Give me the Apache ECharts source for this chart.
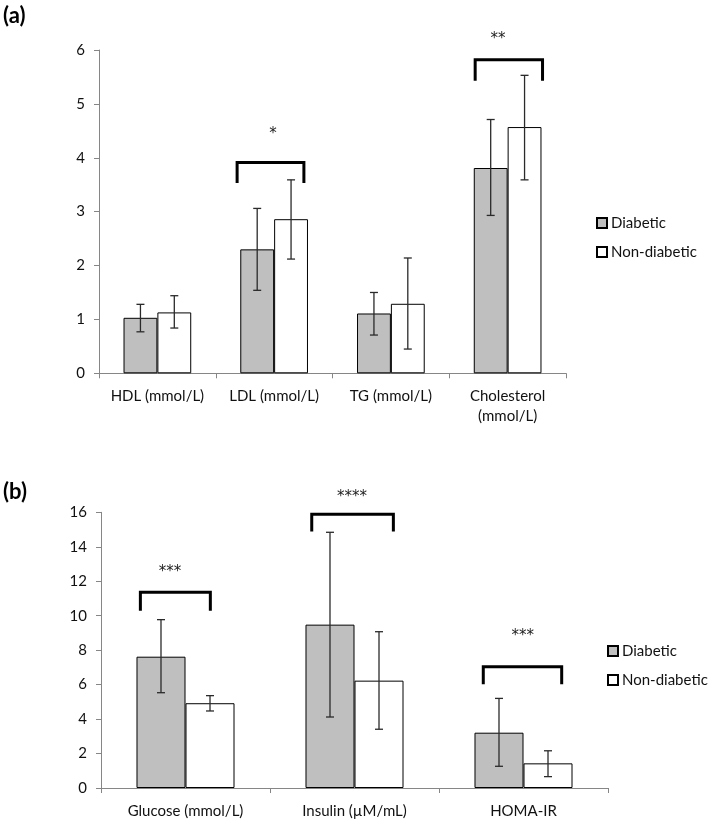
<!DOCTYPE html>
<html>
<head>
<meta charset="utf-8">
<script src="https://cdn.jsdelivr.net/npm/echarts@6/dist/echarts.min.js"></script>
<style>
html,body{margin:0;padding:0;background:#fff;}
#chart{width:708px;height:821px;}
</style>
</head>
<body>
<div id="chart"></div>
<script>
// ---------- Data ----------
var seriesNames = ['Diabetic', 'Non-diabetic'];

// Panel (a)
var categoriesA = ['HDL (mmol/L)', 'LDL (mmol/L)', 'TG (mmol/L)', 'Cholesterol\n(mmol/L)'];
var diabeticA = [1.03, 2.30, 1.11, 3.81];
var nonDiabeticA = [1.13, 2.86, 1.29, 4.57];
var diabeticErrLowA = [0.77, 1.54, 0.71, 2.93];
var diabeticErrHighA = [1.28, 3.06, 1.50, 4.71];
var nonDiabeticErrLowA = [0.84, 2.12, 0.45, 3.59];
var nonDiabeticErrHighA = [1.44, 3.59, 2.14, 5.53];
var yTicksA = [0, 1, 2, 3, 4, 5, 6];
// significance brackets: category, leg bottom, bracket top, star label, star height, left/right ends and star x (category units from centre)
var bracketCatA = [1, 3];
var bracketLegA = [3.53, 5.43];
var bracketTopA = [3.91, 5.82];
var bracketStarsA = ['*', '**'];
var bracketStarYA = [4.52, 6.27];
var bracketLeftA = [-0.317, -0.278];
var bracketRightA = [0.255, 0.299];
var bracketStarXA = [-0.01, -0.083];

// Panel (b)
var categoriesB = ['Glucose (mmol/L)', 'Insulin (\u00b5M/mL)', 'HOMA-IR'];
var diabeticB = [7.62, 9.48, 3.21];
var nonDiabeticB = [4.92, 6.23, 1.43];
var diabeticErrLowB = [5.53, 4.12, 1.26];
var diabeticErrHighB = [9.77, 14.84, 5.20];
var nonDiabeticErrLowB = [4.47, 3.41, 0.66];
var nonDiabeticErrHighB = [5.36, 9.07, 2.16];
var yTicksB = [0, 2, 4, 6, 8, 10, 12, 14, 16];
var bracketCatB = [0, 1, 2];
var bracketLegB = [10.29, 14.88, 6.02];
var bracketTopB = [11.36, 15.88, 7.04];
var bracketStarsB = ['***', '****', '***'];
var bracketStarYB = [12.75, 17.14, 9.05];
var bracketLeftB = [-0.267, -0.253, -0.238];
var bracketRightB = [0.147, 0.230, 0.226];
var bracketStarXB = [-0.092, -0.015, -0.005];

// ---------- Styling ----------
var FONT = 'Lato, "Open Sans", sans-serif';
var STAR_FONT = '"DejaVu Sans", sans-serif';
var GAP = 0.42; // barCategoryGap
var AXIS_COLOR = '#868686';
var TEXT_COLOR = '#111';
var ERR_COLOR = '#2a2a2a';
var GRAY = '#bfbfbf';

function errData(low, high, which) {
  return low.map(function (l, i) { return [i, which, l, high[i]]; });
}
function bracketData(cat, leg, top, stars, starY, left, right, starX) {
  return cat.map(function (c, i) { return [c, leg[i], top[i], starY[i], left[i], right[i], starX[i], stars[i]]; });
}

function renderErr(params, api) {
  var cat = api.value(0), which = api.value(1);
  var lo = api.coord([cat, api.value(2)]);
  var hi = api.coord([cat, api.value(3)]);
  var bw = api.size([1, 0])[0] * (1 - GAP) / 2;
  var x = lo[0] + (which === 0 ? -bw / 2 : bw / 2);
  var cap = 4;
  var st = { stroke: ERR_COLOR, lineWidth: 1.3 };
  return {
    type: 'group',
    children: [
      { type: 'line', shape: { x1: x, y1: lo[1], x2: x, y2: hi[1] }, style: st },
      { type: 'line', shape: { x1: x - cap, y1: lo[1], x2: x + cap, y2: lo[1] }, style: st },
      { type: 'line', shape: { x1: x - cap, y1: hi[1], x2: x + cap, y2: hi[1] }, style: st }
    ]
  };
}

function renderBracket(params, api) {
  var cat = api.value(0);
  var cw = api.size([1, 0])[0];
  var legP = api.coord([cat, api.value(1)]);
  var topP = api.coord([cat, api.value(2)]);
  var starP = api.coord([cat, api.value(3)]);
  var cx = legP[0];
  var xl = cx + api.value(4) * cw;
  var xr = cx + api.value(5) * cw;
  var sx = cx + api.value(6) * cw;
  var stars = api.value(7);
  return {
    type: 'group',
    children: [
      { type: 'polyline', shape: { points: [[xl, legP[1]], [xl, topP[1]], [xr, topP[1]], [xr, legP[1]]] },
        style: { stroke: '#000', lineWidth: 3, fill: null, lineJoin: 'miter' } },
      { type: 'text', style: { text: stars, x: sx, y: starP[1] + 4, align: 'center', verticalAlign: 'middle',
        fill: '#222', font: '15px ' + STAR_FONT } }
    ]
  };
}

function barSeries(name, data, idx, color) {
  return {
    name: name, type: 'bar', xAxisIndex: idx, yAxisIndex: idx, data: data,
    barGap: '0%', barCategoryGap: (GAP * 100) + '%',
    itemStyle: { color: color, borderColor: '#000', borderWidth: 1 },
    emphasis: { disabled: true }
  };
}

function xAxisCfg(cats, idx) {
  return {
    type: 'category', gridIndex: idx, data: cats,
    axisLine: { lineStyle: { color: AXIS_COLOR, width: 1 } },
    axisTick: { show: true, alignWithLabel: false, length: 5, lineStyle: { color: AXIS_COLOR } },
    axisLabel: { color: TEXT_COLOR, fontFamily: FONT, fontSize: 15, margin: 13, lineHeight: 20, interval: 0 }
  };
}
function yAxisCfg(ticks, idx) {
  return {
    type: 'value', gridIndex: idx,
    min: ticks[0], max: ticks[ticks.length - 1], interval: ticks[1] - ticks[0],
    axisLine: { show: true, lineStyle: { color: AXIS_COLOR, width: 1 } },
    axisTick: { show: true, length: 5, lineStyle: { color: AXIS_COLOR } },
    splitLine: { show: false },
    axisLabel: { color: TEXT_COLOR, fontFamily: FONT, fontSize: 15, margin: 14 }
  };
}
function legendCfg(top, left) {
  return {
    orient: 'vertical', top: top, left: left, icon: 'rect',
    itemWidth: 10, itemHeight: 10, itemGap: 11,
    data: seriesNames,
    selectedMode: false,
    textStyle: { color: TEXT_COLOR, fontFamily: FONT, fontSize: 15, lineHeight: 18, padding: [0, 0, 0, -1] }
  };
}

var chart = echarts.init(document.getElementById('chart'), null, { renderer: 'canvas' });
chart.setOption({
  animation: false,
  backgroundColor: '#fff',
  grid: [
    { left: 99, top: 50, width: 467, height: 323.3 },
    { left: 101, top: 512.3, width: 507, height: 275.7 }
  ],
  xAxis: [xAxisCfg(categoriesA, 0), xAxisCfg(categoriesB, 1)],
  yAxis: [yAxisCfg(yTicksA, 0), yAxisCfg(yTicksB, 1)],
  legend: [legendCfg(209, 591), legendCfg(637, 602)],
  graphic: [
    { type: 'text', left: 3, top: 5, style: { text: '(a)', font: 'bold 22px ' + FONT, fill: '#000' } },
    { type: 'text', left: 3, top: 481, style: { text: '(b)', font: 'bold 22px ' + FONT, fill: '#000' } }
  ],
  series: [
    barSeries(seriesNames[0], diabeticA, 0, GRAY),
    barSeries(seriesNames[1], nonDiabeticA, 0, '#fff'),
    barSeries(seriesNames[0], diabeticB, 1, GRAY),
    barSeries(seriesNames[1], nonDiabeticB, 1, '#fff'),
    { type: 'custom', xAxisIndex: 0, yAxisIndex: 0, renderItem: renderErr, clip: false, z: 5,
      data: errData(diabeticErrLowA, diabeticErrHighA, 0).concat(errData(nonDiabeticErrLowA, nonDiabeticErrHighA, 1)) },
    { type: 'custom', xAxisIndex: 1, yAxisIndex: 1, renderItem: renderErr, clip: false, z: 5,
      data: errData(diabeticErrLowB, diabeticErrHighB, 0).concat(errData(nonDiabeticErrLowB, nonDiabeticErrHighB, 1)) },
    { type: 'custom', xAxisIndex: 0, yAxisIndex: 0, renderItem: renderBracket, clip: false, z: 5,
      dimensions: ['cat', 'leg', 'top', 'starY', 'l', 'r', 'sx', { name: 'stars', type: 'ordinal' }],
      data: bracketData(bracketCatA, bracketLegA, bracketTopA, bracketStarsA, bracketStarYA, bracketLeftA, bracketRightA, bracketStarXA) },
    { type: 'custom', xAxisIndex: 1, yAxisIndex: 1, renderItem: renderBracket, clip: false, z: 5,
      dimensions: ['cat', 'leg', 'top', 'starY', 'l', 'r', 'sx', { name: 'stars', type: 'ordinal' }],
      data: bracketData(bracketCatB, bracketLegB, bracketTopB, bracketStarsB, bracketStarYB, bracketLeftB, bracketRightB, bracketStarXB) }
  ]
});
</script>
</body>
</html>
